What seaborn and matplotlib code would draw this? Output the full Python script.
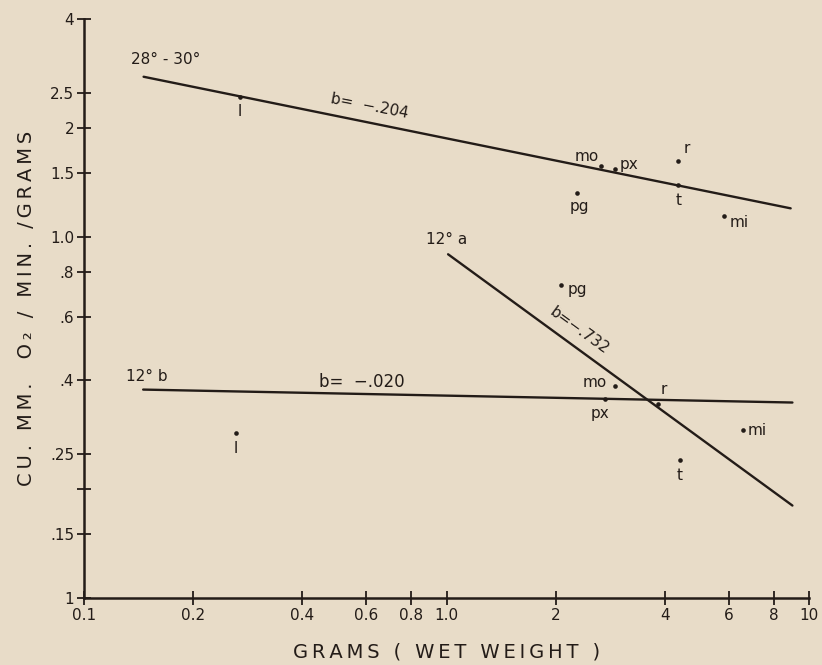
import matplotlib
matplotlib.use("Agg")
import matplotlib.pyplot as plt
import numpy as np
import pandas as pd
import seaborn as sns

# fitted lines: y = a * x**b, drawn over [x_start, x_end]
line_names = ["28-30", "12a", "12b"]
line_a = [1.87, 0.90, 0.363]
line_b = [-0.204, -0.732, -0.020]
line_x_start = [0.146, 1.01, 0.1456]
line_x_end = [8.9, 9.0, 9.0]

# species points, 28-30 degrees
warm_species = ["l", "mo", "px", "pg", "r", "t", "mi"]
warm_weight = [0.269, 2.66, 2.92, 2.29, 4.36, 4.36, 5.83]
warm_rate = [2.44, 1.57, 1.54, 1.32, 1.62, 1.39, 1.14]

# species points, 12 degrees
cold_species = ["l", "pg", "mo", "px", "r", "mi", "t"]
cold_weight = [0.262, 2.07, 2.92, 2.74, 3.83, 6.58, 4.41]
cold_rate = [0.286, 0.733, 0.387, 0.356, 0.345, 0.291, 0.241]

x_ticks = [0.1, 0.2, 0.4, 0.6, 0.8, 1.0, 2, 4, 6, 8, 10]
x_tick_labels = ["0.1", "0.2", "0.4", "0.6", "0.8", "1.0", "2", "4", "6", "8", "10"]
y_ticks = [0.1, 0.15, 0.2, 0.25, 0.4, 0.6, 0.8, 1.0, 1.5, 2, 2.5, 4]
y_tick_labels = ["1", ".15", "", ".25", ".4", ".6", ".8", "1.0", "1.5", "2", "2.5", "4"]

bg = "#e8dcc8"
ink = "#231c18"

sns.set_theme(style="ticks")
plt.rcParams["font.family"] = ["DejaVu Sans"]


def spaced(s):
    # hand-lettered look: a thin space between letters
    return "\u2009".join(s)


fig = plt.figure(figsize=(8.22, 6.65), dpi=100, facecolor=bg)
ax = fig.add_axes([0.1022, 0.1008, 0.882, 0.8706])
ax.set_facecolor(bg)

rows = []
for name, a, b, x0, x1 in zip(line_names, line_a, line_b, line_x_start, line_x_end):
    xs = np.geomspace(x0, x1, 50)
    for xv in xs:
        rows.append({"line": name, "x": xv, "y": a * xv ** b})
lines = pd.DataFrame(rows)
sns.lineplot(data=lines, x="x", y="y", units="line", estimator=None,
             color=ink, linewidth=1.7, ax=ax, legend=False)

warm = pd.DataFrame({"sp": warm_species, "x": warm_weight, "y": warm_rate})
cold = pd.DataFrame({"sp": cold_species, "x": cold_weight, "y": cold_rate})
for df in (warm, cold):
    sns.scatterplot(data=df, x="x", y="y", color=ink, s=11, linewidth=0,
                    ax=ax, legend=False, zorder=3)

ax.set_xscale("log")
ax.set_yscale("log")
ax.set_xlim(0.1, 10)
ax.set_ylim(0.1, 4)
ax.set_xticks(x_ticks)
ax.set_xticklabels(x_tick_labels)
ax.set_yticks(y_ticks)
ax.set_yticklabels(y_tick_labels)
ax.minorticks_off()
ax.tick_params(direction="inout", length=10, width=1.3, colors=ink,
               labelsize=11, pad=2)
for side in ("top", "right"):
    ax.spines[side].set_visible(False)
for side in ("left", "bottom"):
    ax.spines[side].set_color(ink)
    ax.spines[side].set_linewidth(1.8)

# point labels: (dx, dy) offsets in points
warm_offsets = {"l": (0, -11), "mo": (-10, 7), "px": (10, 3), "pg": (2, -10),
                "r": (6, 9), "t": (0, -11), "mi": (11, -5)}
cold_offsets = {"l": (0, -11), "pg": (12, -3), "mo": (-15, 2), "px": (-4, -11),
                "r": (4, 10), "mi": (10, 0), "t": (0, -11.5)}
for df, offs in ((warm, warm_offsets), (cold, cold_offsets)):
    for sp, xv, yv in zip(df["sp"], df["x"], df["y"]):
        dx, dy = offs[sp]
        ax.annotate(sp, (xv, yv), xytext=(dx, dy), textcoords="offset points",
                    ha="center", va="center", fontsize=11, color=ink)

txt = dict(color=ink, ha="center", va="center", rotation_mode="anchor")
ax.text(0.168, 3.1, "28° - 30°", fontsize=11, **txt)
ax.text(0.615, 2.3, "b=  \u2212.204", fontsize=11, rotation=-11, **txt)
ax.text(1.0, 0.98, "12° a", fontsize=11, **txt)
ax.text(2.33, 0.55, "b=\u2212.732", fontsize=11, rotation=-36, **txt)
ax.text(0.149, 0.41, "12° b", fontsize=11, **txt)
ax.text(0.585, 0.397, "b=  \u2212.020", fontsize=12, **txt)

ax.set_xlabel(spaced("GRAMS ( WET WEIGHT )"), fontsize=14, color=ink, labelpad=14)
ax.set_ylabel(spaced("CU. MM.  O\u2082 / MIN. /GRAMS"), fontsize=14, color=ink,
              labelpad=10)

fig.savefig("out.png", dpi=100, facecolor=bg)
